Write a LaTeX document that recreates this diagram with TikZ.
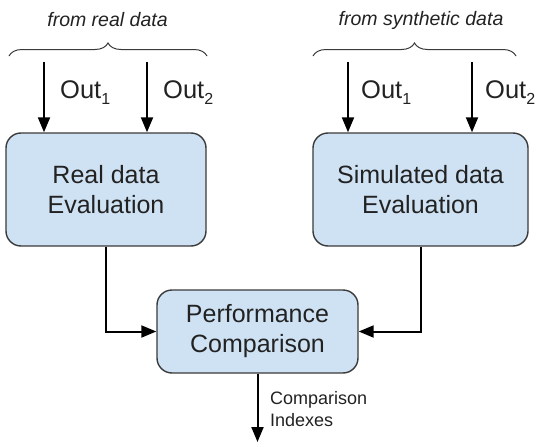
\documentclass[tikz,border=0pt]{standalone}
\usepackage{fontspec}
\setmainfont{Liberation Sans}
\usetikzlibrary{arrows.meta,decorations.pathreplacing}
\definecolor{boxfill}{HTML}{CFE2F3}
\definecolor{boxline}{HTML}{3A3A3A}
\definecolor{txt}{HTML}{222222}
\newcommand{\outlbl}[1]{Out\raisebox{-0.45ex}{\fontsize{16}{16}\selectfont #1}}
\begin{document}
\begin{tikzpicture}[x=1pt,y=-1pt,
  evalbox/.style={draw=boxline,fill=boxfill,line width=1.4pt,rounded corners=15pt,
    align=center,font=\fontsize{25}{30}\selectfont,inner sep=0pt,text=txt},
  arr/.style={line width=2pt,-{Triangle[length=15pt,width=12pt]}},
  outtxt/.style={anchor=west,inner sep=0pt,font=\fontsize{25.5}{25}\selectfont,text=txt},
  bracetxt/.style={inner sep=0pt,font=\fontsize{19.5}{19}\selectfont\itshape,text=txt},
  bracestyle/.style={draw=boxline,line width=1pt,decorate,decoration={brace,amplitude=13pt}},
  smalltxt/.style={anchor=west,align=left,inner sep=0pt,font=\fontsize{18}{22}\selectfont,text=txt}]
\useasboundingbox (0,0) rectangle (536,447);
% boxes
\node[evalbox,minimum width=200pt,minimum height=113pt] (real) at (106,189.5) {Real data\\Evaluation};
\node[evalbox,minimum width=215pt,minimum height=113pt] (sim) at (420.5,189.5) {Simulated data\\Evaluation};
\node[evalbox,minimum width=201pt,minimum height=83pt] (perf) at (257.5,331.5) {Performance\\Comparison};
% braces
\coordinate (bl1) at (9,56);
\coordinate (bl2) at (207,56);
\coordinate (br1) at (313,56);
\coordinate (br2) at (516,56);
\draw[bracestyle] (bl1) -- (bl2);
\draw[bracestyle] (br1) -- (br2);
\node[bracetxt] (lblreal) at (107.5,20) {from real data};
\node[bracetxt] (lblsyn) at (421,20) {from synthetic data};
% input arrows
\coordinate (a1) at (44,62);
\coordinate (a2) at (147,62);
\coordinate (a3) at (348,62);
\coordinate (a4) at (472,62);
\draw[arr] (a1) -- (a1 |- real.north);
\draw[arr] (a2) -- (a2 |- real.north);
\draw[arr] (a3) -- (a3 |- sim.north);
\draw[arr] (a4) -- (a4 |- sim.north);
\node[outtxt] (o1) at (60,93) {\outlbl{1}};
\node[outtxt] (o2) at (163,93) {\outlbl{2}};
\node[outtxt] (o3) at (361,93) {\outlbl{1}};
\node[outtxt] (o4) at (485,93) {\outlbl{2}};
% connectors
\draw[arr] (real.south) |- (perf.west);
\draw[arr] (sim.south) |- (perf.east);
\coordinate (endpt) at (257.5,442);
\draw[arr] (perf.south) -- (endpt);
\node[smalltxt] (ci) at (270,409) {Comparison\\Indexes};
\end{tikzpicture}
\end{document}
